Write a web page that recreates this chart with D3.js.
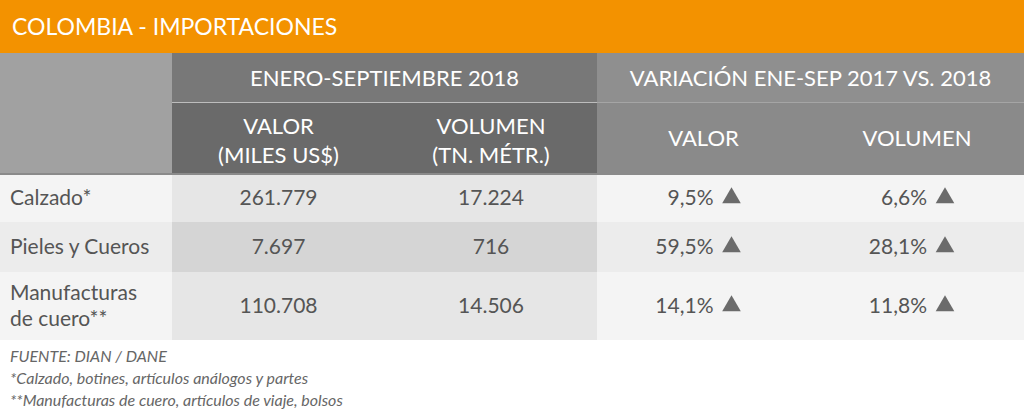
<!DOCTYPE html><html><head><meta charset="utf-8">
<script src="https://cdn.jsdelivr.net/npm/d3@7"></script>
<style>body{margin:0;background:#fff}svg{display:block}text{font-family:Lato,"Open Sans",sans-serif}</style></head><body>
<svg id="c" width="1024" height="418"></svg>
<script>
const title = "COLOMBIA - IMPORTACIONES";
const groupHeaders = ["ENERO-SEPTIEMBRE 2018", "VARIACIÓN ENE-SEP 2017 VS. 2018"];
const colHeaders = [["VALOR","(MILES US$)"],["VOLUMEN","(TN. MÉTR.)"],["VALOR"],["VOLUMEN"]];
const categories = [["Calzado*"],["Pieles y Cueros"],["Manufacturas","de cuero**"]];
const valor = ["261.779","7.697","110.708"];
const volumen = ["17.224","716","14.506"];
const varValor = ["9,5%","59,5%","14,1%"];
const varVolumen = ["6,6%","28,1%","11,8%"];
const notes = ["FUENTE: DIAN / DANE","*Calzado, botines, artículos análogos y partes","**Manufacturas de cuero, artículos de viaje, bolsos"];

const svg = d3.select("#c");
const x = d3.scaleOrdinal().domain([0,1,2,3,4,5]).range([0,172,385,597,810,1024]);
const rowY = d3.scaleOrdinal().domain([0,1,2,3]).range([174,222,272,340]);
const txt = "#555";

svg.append("rect").attr("x",0).attr("y",0).attr("width",1024).attr("height",53).attr("fill","#f39200");
svg.append("text").attr("x",12).attr("y",35).attr("fill","#fff").attr("font-size",23).text(title);

svg.append("rect").attr("x",0).attr("y",53).attr("width",172).attr("height",121).attr("fill","#a1a1a1");
[[1,3,"#787878","#6a6a6a"],[3,5,"#8f8f8f","#8a8a8a"]].forEach((g,i)=>{
  svg.append("rect").attr("x",x(g[0])).attr("y",53).attr("width",x(g[1])-x(g[0])).attr("height",49).attr("fill",g[2]);
  svg.append("rect").attr("x",x(g[0])).attr("y",102).attr("width",x(g[1])-x(g[0])).attr("height",72).attr("fill",g[3]);
  svg.append("text").attr("x",(x(g[0])+x(g[1]))/2).attr("y",86).attr("text-anchor","middle").attr("fill","#fff").attr("font-size",22).text(groupHeaders[i]);
});
svg.append("line").attr("x1",172).attr("x2",597).attr("y1",102.5).attr("y2",102.5).attr("stroke","#bdbdbd");
svg.append("line").attr("x1",597).attr("x2",1024).attr("y1",102.5).attr("y2",102.5).attr("stroke","#a5a5a5");
colHeaders.forEach((h,i)=>{
  const cx=(x(i+1)+x(i+2))/2;
  const t=svg.append("text").attr("text-anchor","middle").attr("fill","#fff").attr("font-size",22);
  if(h.length===2){t.append("tspan").attr("x",cx).attr("y",134).text(h[0]);t.append("tspan").attr("x",cx).attr("y",163).text(h[1]);}
  else t.attr("x",cx).attr("y",146).text(h[0]);
});

const light=["#f4f4f4","#ececec","#f4f4f4"], mid=["#e6e6e6","#d5d5d5","#e6e6e6"];
categories.forEach((c,r)=>{
  const y0=rowY(r), y1=rowY(r+1), cy=(y0+y1)/2+7;
  svg.append("rect").attr("x",0).attr("y",y0).attr("width",172).attr("height",y1-y0).attr("fill",light[r]);
  svg.append("rect").attr("x",172).attr("y",y0).attr("width",425).attr("height",y1-y0).attr("fill",mid[r]);
  svg.append("rect").attr("x",597).attr("y",y0).attr("width",427).attr("height",y1-y0).attr("fill",light[r]);
  const t=svg.append("text").attr("fill",txt).attr("font-size",21);
  if(c.length===1) t.attr("x",10).attr("y",cy).text(c[0]);
  else {t.append("tspan").attr("x",10).attr("y",cy-13).text(c[0]);t.append("tspan").attr("x",10).attr("y",cy+13).text(c[1]);}
  [valor[r],volumen[r]].forEach((v,j)=>{
    svg.append("text").attr("x",(x(j+1)+x(j+2))/2).attr("y",cy).attr("text-anchor","middle").attr("fill",txt).attr("font-size",21).text(v);
  });
  [varValor[r],varVolumen[r]].forEach((v,j)=>{
    const cx=(x(j+3)+x(j+4))/2+14;
    svg.append("text").attr("x",cx-4).attr("y",cy).attr("text-anchor","end").attr("fill",txt).attr("font-size",21).text(v);
    svg.append("path").attr("d",d3.symbol(d3.symbolTriangle,150)()).attr("transform",`translate(${cx+14},${cy-7})`).attr("fill","#6b6b6b");
  });
});
svg.append("line").attr("x1",0).attr("x2",1024).attr("y1",174).attr("y2",174).attr("stroke","#8a8a8a").attr("stroke-width",2);

notes.forEach((n,i)=>{
  svg.append("text").attr("x",10).attr("y",362+i*22).attr("fill","#666").attr("font-size",16).attr("font-style","italic").text(n);
});
</script></body></html>
